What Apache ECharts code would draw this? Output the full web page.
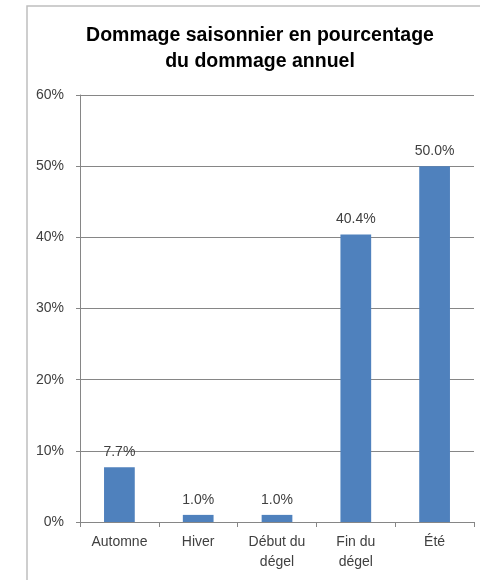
<!DOCTYPE html>
<html lang="fr">
<head>
    <meta charset="UTF-8">
    <title>Dommage saisonnier</title>
    <style>
        html, body { margin: 0; padding: 0; background: #fff; }
    </style>
</head>
<body>
    <div id="main" style="width: 491px; height: 580px;"></div>
</body>
<script src="https://cdn.jsdelivr.net/npm/echarts@6/dist/echarts.min.js"></script>
<script>
    var categories = ['Automne', 'Hiver', 'Début du\ndégel', 'Fin du\ndégel', 'Été'];
    var values = [7.7, 1.0, 1.0, 40.4, 50.0];
    var yTicks = [0, 10, 20, 30, 40, 50, 60];

    var font = 'Liberation Sans';
    var myChart = echarts.init(document.getElementById('main'));
    var option = {
        backgroundColor: '#fff',
        animation: false,
        title: {
            text: 'Dommage saisonnier en pourcentage\ndu dommage annuel',
            left: 255,
            top: 18,
            textAlign: 'center',
            textStyle: {
                fontFamily: font,
                fontWeight: 'bold',
                fontSize: 19.5,
                lineHeight: 26,
                color: '#000'
            }
        },
        graphic: [{
            type: 'polyline',
            shape: { points: [[27, 590], [27, 6], [480, 6]] },
            style: { stroke: '#bfbfbf', fill: null, lineWidth: 1.5 }
        }],
        grid: { left: 80, right: 17, top: 95, bottom: 58 },
        xAxis: {
            type: 'category',
            data: categories,
            axisLine: { lineStyle: { color: '#868686' } },
            axisTick: { show: true, length: 5, lineStyle: { color: '#868686' } },
            axisLabel: {
                fontFamily: font,
                fontSize: 14,
                color: '#404040',
                lineHeight: 20,
                margin: 10,
                interval: 0
            }
        },
        yAxis: {
            type: 'value',
            min: yTicks[0],
            max: yTicks[yTicks.length - 1],
            interval: 10,
            axisLine: { show: true, lineStyle: { color: '#868686' } },
            axisTick: { show: true, length: 4, lineStyle: { color: '#868686' } },
            splitLine: { lineStyle: { color: '#868686' } },
            axisLabel: {
                fontFamily: font,
                fontSize: 14,
                color: '#404040',
                margin: 16,
                formatter: '{value}%'
            }
        },
        series: [{
            type: 'bar',
            data: values,
            barWidth: '39%',
            itemStyle: { color: '#4F81BD' },
            label: {
                show: true,
                position: 'top',
                distance: 8,
                fontFamily: font,
                fontSize: 14,
                color: '#404040',
                formatter: function (p) { return p.value.toFixed(1) + '%'; }
            }
        }]
    };
    myChart.setOption(option);
</script>
</html>
